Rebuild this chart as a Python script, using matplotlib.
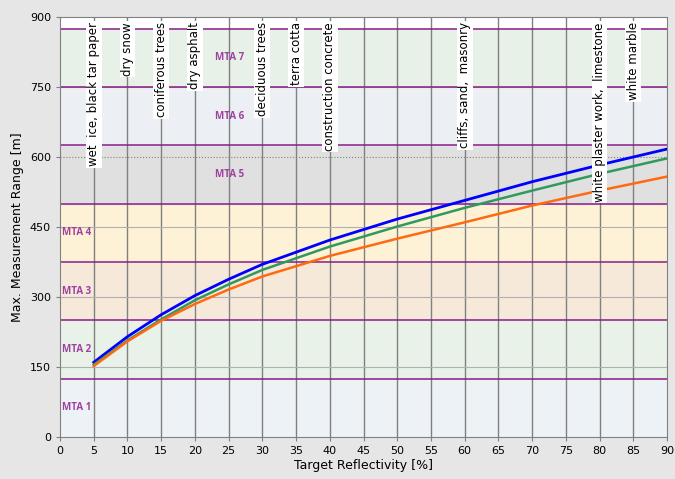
import matplotlib
matplotlib.use('Agg')
import matplotlib.pyplot as plt
import numpy as np

refl = [5, 10, 15, 20, 25, 30, 40, 50, 60, 70, 80, 90]
range_blue = [160, 215, 262, 303, 338, 370, 422, 467, 507, 547, 583, 617]
range_green = [155, 207, 252, 293, 327, 358, 408, 451, 491, 528, 564, 597]
range_orange = [152, 205, 249, 285, 316, 344, 388, 425, 460, 496, 528, 558]

mta_edges = [0, 125, 250, 375, 500, 625, 750, 875]
mta_names = ["MTA 1", "MTA 2", "MTA 3", "MTA 4", "MTA 5", "MTA 6", "MTA 7"]
mta_colors = ["#edf2f7", "#e8f2e8", "#f6e9da", "#fef2d6", "#e0e0e0", "#ecf0f5", "#e8f1e8"]

targets = [5, 10, 15, 20, 30, 35, 40, 60, 80, 85]
target_names = ["wet  ice, black tar paper", "dry snow", "coniferous trees", "dry asphalt",
                "deciduous trees", "terra cotta", "construction concrete",
                "cliffs, sand,  masonry", "white plaster work,  limestone", "white marble"]

fig = plt.figure(figsize=(6.75, 4.79), dpi=100)
fig.patch.set_facecolor('#e6e6e6')
ax = fig.add_axes([60/675, 42/479, 607/675, 420/479])
ax.set_facecolor('white')

for i in range(7):
    ax.axhspan(mta_edges[i], mta_edges[i+1], color=mta_colors[i], zorder=0)
    ax.axhline(mta_edges[i+1], color='#8b1a8b', lw=1.1, zorder=2)
    xl = 0.3 if i < 4 else 25.2
    ax.text(xl, (mta_edges[i] + mta_edges[i+1]) / 2, mta_names[i], color='#a040a0',
            fontsize=7, fontweight='bold', ha='left' if i < 4 else 'center', va='center',
            zorder=3, family='Open Sans')

for x in range(5, 90, 5):
    ax.axvline(x, color='#808080', lw=1.0, zorder=1)
for y in [150, 300, 450, 750]:
    ax.axhline(y, color='#b0b0b0', lw=0.8, zorder=1)
ax.axhline(600, color='#808080', lw=0.8, ls=':', zorder=1)

ax.plot(refl, range_blue, color='#0000ff', lw=2, zorder=4)
ax.plot(refl, range_green, color='#2e9a5e', lw=1.8, zorder=4)
ax.plot(refl, range_orange, color='#ff6a10', lw=1.8, zorder=4)

for x, name in zip(targets, target_names):
    ax.text(x, 889, name, rotation=90, ha='center', va='top', fontsize=8.5, zorder=5,
            bbox=dict(facecolor='white', edgecolor='none', pad=1))

ax.set_xlim(0, 90)
ax.set_ylim(0, 900)
ax.set_xticks(range(0, 91, 5))
ax.set_yticks(range(0, 901, 150))
ax.tick_params(labelsize=8, length=3, color='#808080')
for s in ax.spines.values():
    s.set_color('#808080')
ax.set_xlabel('Target Reflectivity [%]', fontsize=9, labelpad=2)
ax.set_ylabel('Max. Measurement Range [m]', fontsize=9)

fig.savefig('out.png', dpi=100)
